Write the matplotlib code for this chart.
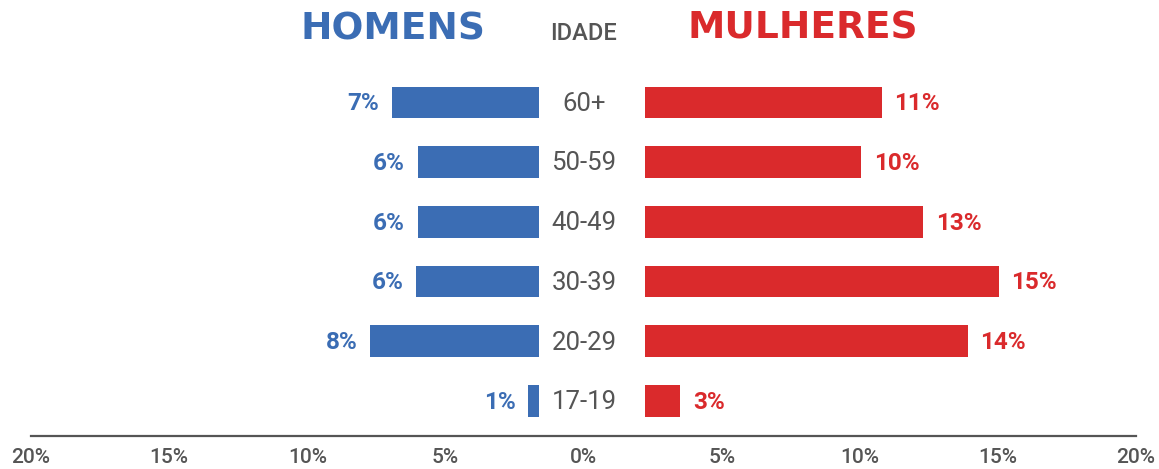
"""Age pyramid: share of men and women by age group."""

import matplotlib

matplotlib.use("Agg")

import matplotlib.pyplot as plt

# data (bar lengths, labels as printed)
age_groups = ["17-19", "20-29", "30-39", "40-49", "50-59", "60+"]
men_share = [0.5, 7.85, 5.7, 5.65, 5.65, 6.85]
women_share = [1.65, 15.0, 16.45, 12.95, 10.05, 11.0]
men_labels = ["1%", "8%", "6%", "6%", "6%", "7%"]
women_labels = ["3%", "14%", "15%", "13%", "10%", "11%"]
axis_ticks = [-20, -15, -10, -5, 0, 5, 10, 15, 20]

BLUE = "#3b6db4"
RED = "#da2a2c"
GREY = "#555555"

W, H = 1159, 469
PX_PER_UNIT = 21.5


def fx(px):
    return px / W


def fy(px):
    return 1 - px / H


fig = plt.figure(figsize=(W / 100, H / 100), dpi=100, facecolor="white")

row_top, row_bottom = 72.5, 430.8
ax_bottom = fy(row_bottom)
ax_height = (row_bottom - row_top) / H

ax_men = fig.add_axes([fx(30), ax_bottom, fx(509), ax_height])
ax_mid = fig.add_axes([fx(539), ax_bottom, fx(90), ax_height])
ax_women = fig.add_axes([fx(645), ax_bottom, fx(490), ax_height])

ypos = list(range(len(age_groups)))
bar_h = 0.53

ax_men.barh(ypos, men_share, height=bar_h, color=BLUE)
ax_men.set_xlim(509 / PX_PER_UNIT, 0)
ax_women.barh(ypos, women_share, height=bar_h, color=RED)
ax_women.set_xlim(0, 490 / PX_PER_UNIT)

for axis in (ax_men, ax_mid, ax_women):
    axis.set_ylim(-0.5, len(age_groups) - 0.5)
    axis.axis("off")

value_font = {"family": ["Roboto", "DejaVu Sans"], "weight": "bold", "fontsize": 17.5}
for y, v, lab in zip(ypos, men_share, men_labels):
    ax_men.annotate(lab, xy=(v, y), xytext=(-9, -1), textcoords="offset points",
                    ha="right", va="center", color=BLUE, **value_font)
for y, v, lab in zip(ypos, women_share, women_labels):
    ax_women.annotate(lab, xy=(v, y), xytext=(9, -1), textcoords="offset points",
                      ha="left", va="center", color=RED, **value_font)

for y, age in zip(ypos, age_groups):
    ax_mid.annotate(age, xy=(0.5, y), xycoords=("axes fraction", "data"),
                    xytext=(0, -1), textcoords="offset points",
                    ha="center", va="center", color=GREY,
                    family=["Roboto", "DejaVu Sans"], fontsize=18.5)

# headers
title_font = {"family": "DejaVu Sans", "weight": "bold", "fontsize": 27}
fig.text(fx(392.5), fy(29.5), "HOMENS", ha="center", va="center", color=BLUE, **title_font)
fig.text(fx(802.5), fy(28.5), "MULHERES", ha="center", va="center", color=RED, **title_font)
fig.text(fx(584), fy(33.7), "IDADE", ha="center", va="center", color=GREY,
         family=["Roboto", "DejaVu Sans"], weight="medium", fontsize=17)

# bottom scale
ax_scale = fig.add_axes([fx(31), fy(435.8), fx(1105), 0.01])
ax_scale.set_xlim(-20, 20)
ax_scale.set_yticks([])
ax_scale.patch.set_visible(False)
for side in ("top", "left", "right"):
    ax_scale.spines[side].set_visible(False)
ax_scale.spines["bottom"].set_color(GREY)
ax_scale.spines["bottom"].set_linewidth(1.6)
ax_scale.set_xticks(axis_ticks)
ax_scale.set_xticklabels([f"{abs(t)}%" for t in axis_ticks])
ax_scale.tick_params(axis="x", length=0, pad=9, labelcolor=GREY, labelsize=15)
for lab in ax_scale.get_xticklabels():
    lab.set_family(["Roboto", "DejaVu Sans"])
    lab.set_weight("medium")

fig.savefig("out.png", dpi=100, facecolor="white")
plt.close(fig)
